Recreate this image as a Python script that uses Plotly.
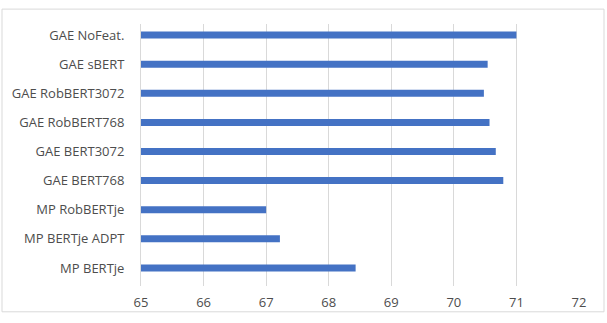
import plotly.graph_objects as go

categories = ["GAE NoFeat.", "GAE sBERT", "GAE RobBERT3072", "GAE RobBERT768",
              "GAE BERT3072", "GAE BERT768", "MP RobBERTje", "MP BERTje ADPT", "MP BERTje"]
values = [71.0, 70.54, 70.48, 70.57, 70.67, 70.79, 67.0, 67.22, 68.43]
x_ticks = [65, 66, 67, 68, 69, 70, 71, 72]

W, H = 607, 323
L, R, T, B = 141, 28, 24, 35

fig = go.Figure(go.Bar(
    y=categories, x=values, orientation="h",
    marker=dict(color="#4472C4", line=dict(width=0)),
    width=0.24,
))

# outer chart border (pixel coords -> paper coords)
pw, ph = W - L - R, H - T - B
def px(x): return (x - L) / pw
def py(y): return (H - B - y) / ph
fig.add_shape(type="rect", xref="paper", yref="paper",
              x0=px(2), x1=px(604), y0=py(314), y1=py(9),
              line=dict(color="#d9d9d9", width=1), fillcolor="rgba(0,0,0,0)", layer="below")

fig.update_layout(
    width=W, height=H,
    margin=dict(l=L, r=R, t=T, b=B, pad=0),
    paper_bgcolor="white", plot_bgcolor="white",
    font=dict(family="Open Sans", size=13, color="#4d4d4d"),
    showlegend=False,
    xaxis=dict(range=[65, 72], tickvals=x_ticks, showgrid=True, gridcolor="#d9d9d9",
               gridwidth=1, zeroline=False, showline=False, ticks="",
               ticklabelstandoff=7, fixedrange=True),
    yaxis=dict(categoryorder="array", categoryarray=categories,
               range=[8.62, -0.38], showgrid=False, zeroline=False,
               showline=True, linecolor="#d9d9d9", linewidth=1, ticks="",
               ticklabelstandoff=13, fixedrange=True),
)

fig.write_html("out.html")
